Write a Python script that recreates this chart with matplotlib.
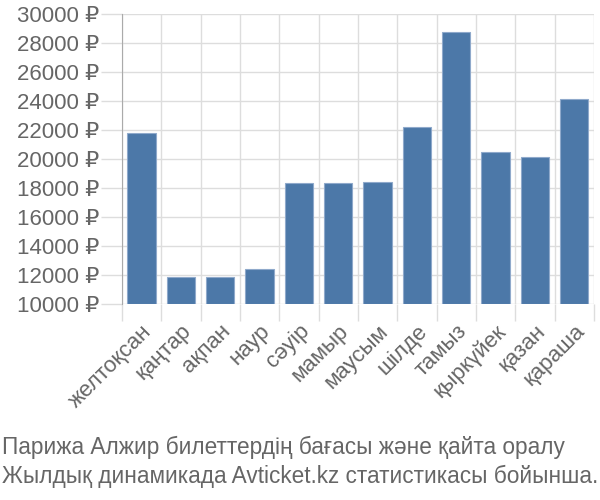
import matplotlib.pyplot as plt
import numpy as np

plt.rcParams['font.family'] = ['Liberation Sans', 'DejaVu Sans']

months = ['желтоқсан', 'қаңтар', 'ақпан', 'наур', 'сәуір', 'мамыр',
          'маусым', 'шілде', 'тамыз', 'қыркүйек', 'қазан', 'қараша']
prices = [21770, 11880, 11880, 12390, 18320, 18320,
          18410, 22230, 28780, 20460, 20120, 24120]
yticks = list(range(10000, 30001, 2000))
caption = ['Парижа Алжир билеттердің бағасы және қайта оралу',
           'Жылдық динамикада Avticket.kz статистикасы бойынша.']

text_color = '#666666'
grid_color = '#dddddd'

fig = plt.figure(figsize=(6, 5), dpi=100)
ax = fig.add_axes([0.203, 0.392, 0.787, 0.58])

x = np.arange(len(months))
ax.bar(x, np.array(prices) - 10000, bottom=10000, width=0.72,
       color='#4c78a8', edgecolor='#8fa9cb', linewidth=0.8, zorder=3)

ax.set_xlim(-0.5, len(months) - 0.5)
ax.set_ylim(10000, 30000)

ax.set_yticks(yticks)
ax.set_yticklabels([f'{v} ₽' for v in yticks], color=text_color, fontsize=16)
ax.set_xticks(x)
ax.set_xticklabels(months, rotation=45, ha='right', va='top',
                   rotation_mode='anchor', color=text_color, fontsize=16)
ax.set_xticks(np.arange(len(months) + 1) - 0.5, minor=True)

ax.tick_params(axis='x', which='major', length=0, pad=12)
ax.tick_params(axis='x', which='minor', length=12, color=grid_color, width=1)
ax.tick_params(axis='y', length=15, color=grid_color, width=1, pad=1)

ax.grid(True, axis='y', color=grid_color, linewidth=1, zorder=0)
ax.grid(True, axis='x', which='minor', color=grid_color, linewidth=1, zorder=0)

for side in ['top', 'right', 'bottom']:
    ax.spines[side].set_visible(False)
ax.spines['left'].set_color('#aaaaaa')
ax.spines['left'].set_zorder(4)

fig.text(0.003, 0.105, caption[0], color=text_color, fontsize=16.3, va='center')
fig.text(0.003, 0.048, caption[1], color=text_color, fontsize=16.3, va='center')

fig.savefig('out.png', dpi=100)
